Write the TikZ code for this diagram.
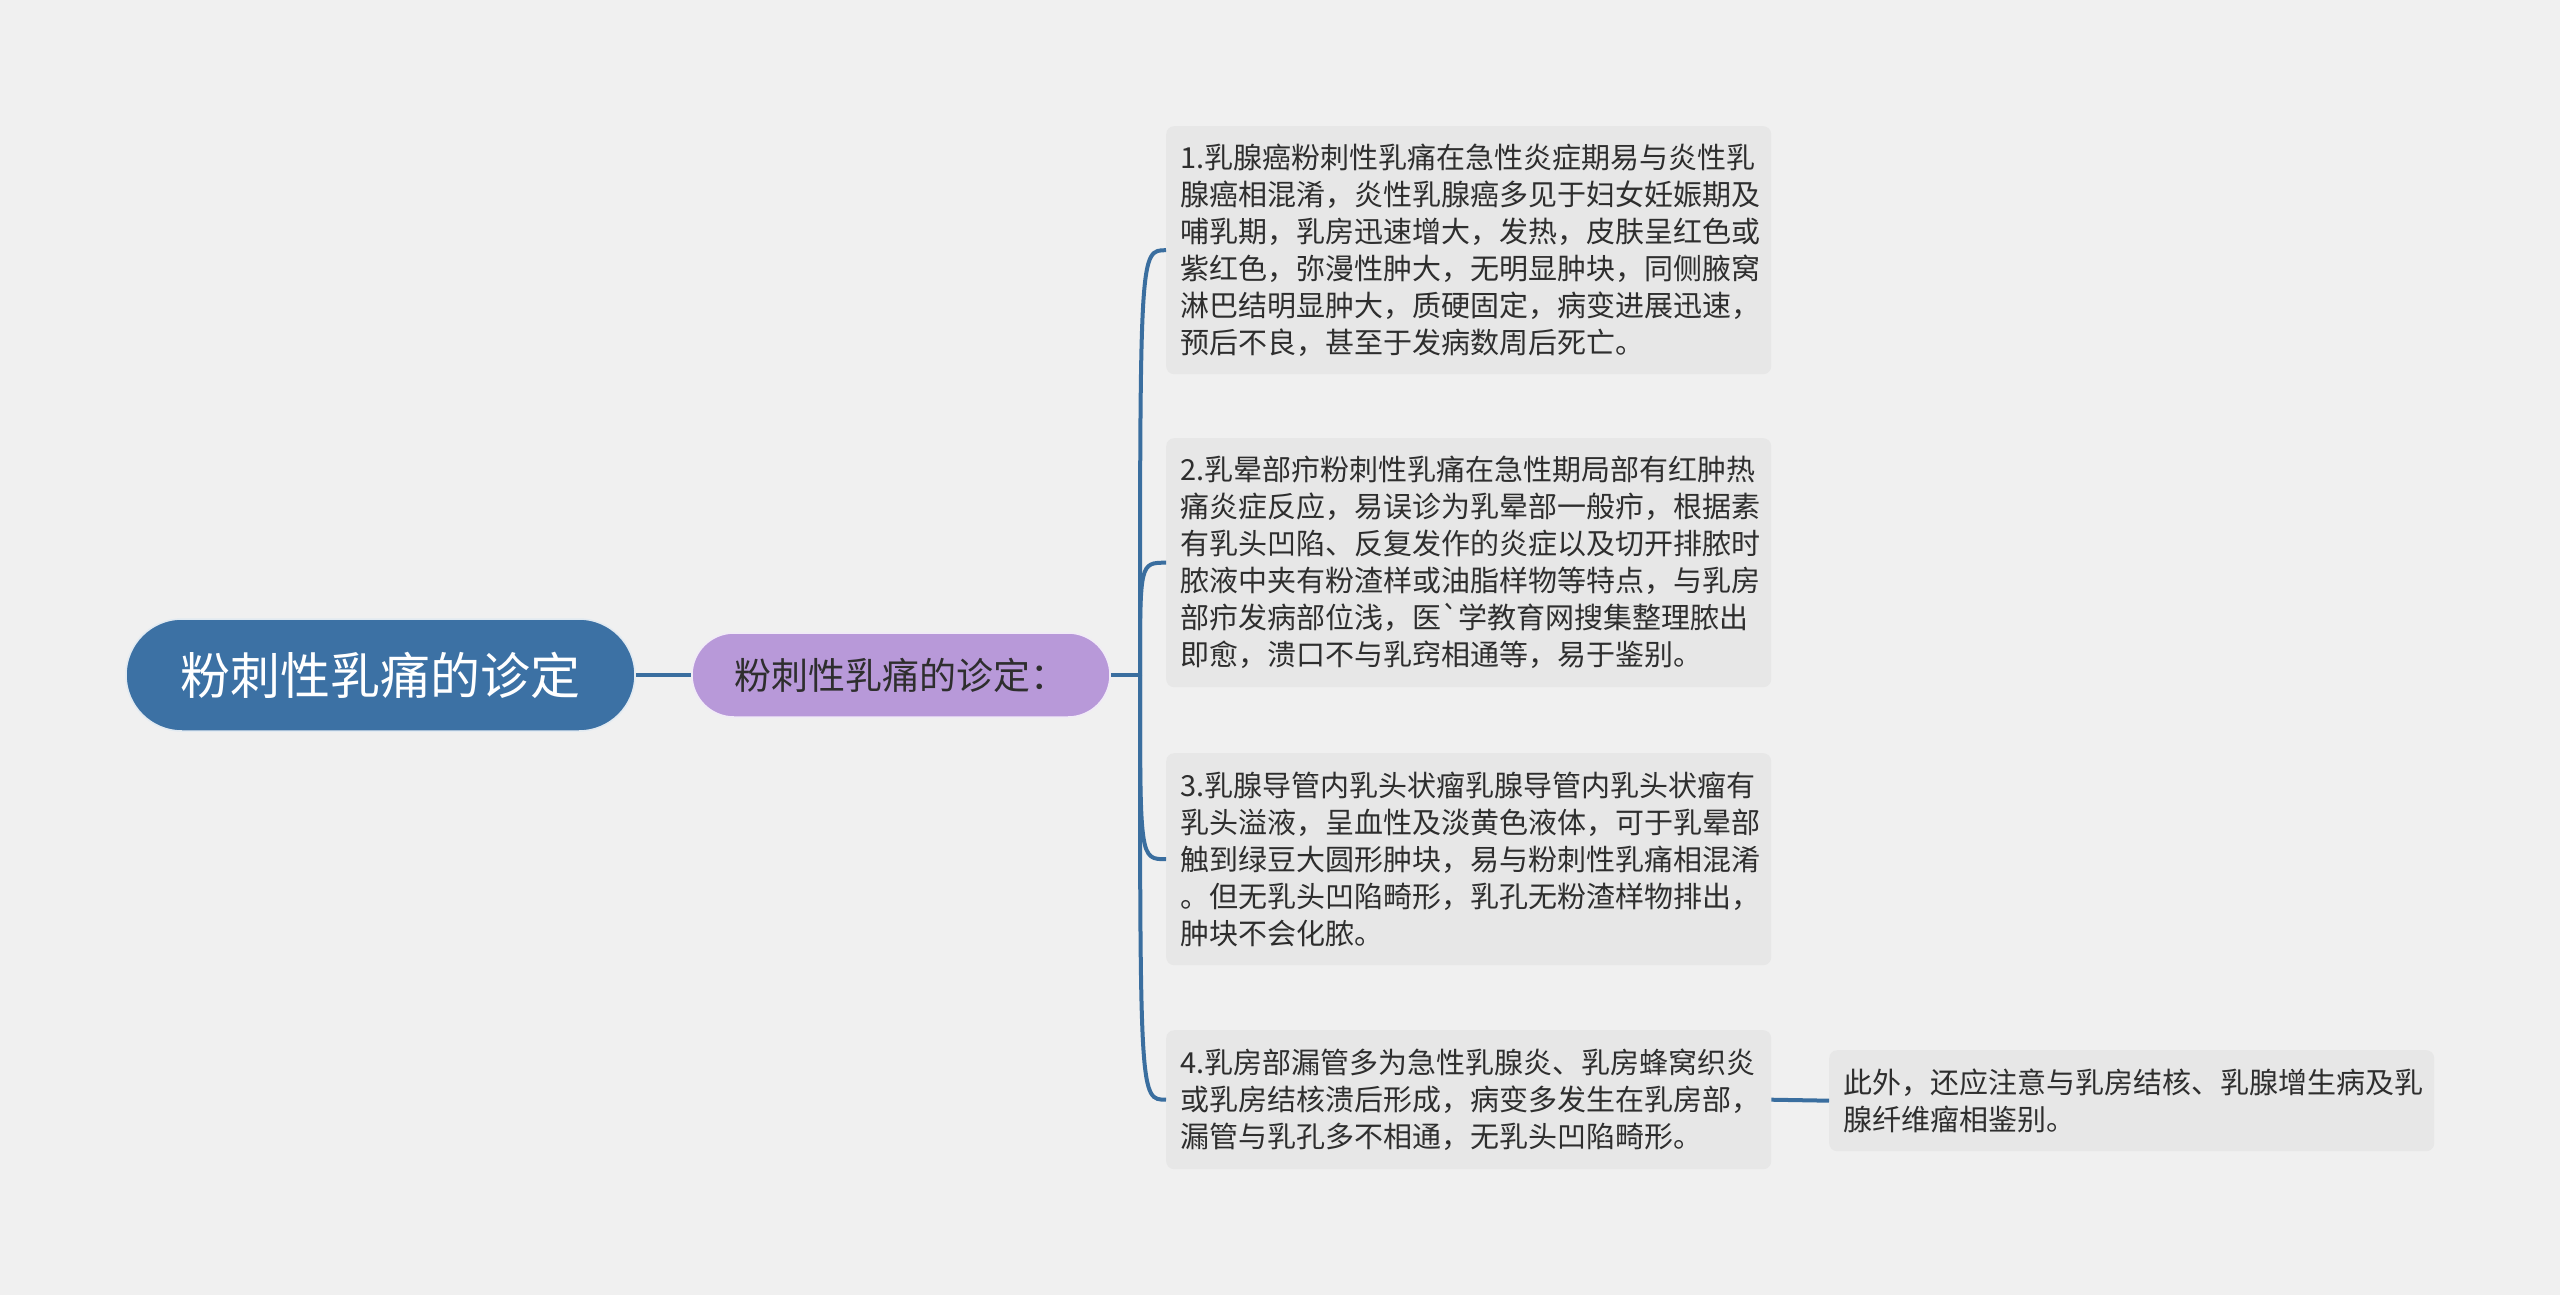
\documentclass[tikz,border=0pt]{standalone}
\usepackage{fontspec}
\setmainfont{Noto Sans CJK SC}
\definecolor{bgc}{HTML}{F0F0F0}
\definecolor{rootc}{HTML}{3C71A4}
\definecolor{subc}{HTML}{B899D9}
\definecolor{boxc}{HTML}{E7E7E7}
\definecolor{linec}{HTML}{3A6E9F}
\definecolor{txtc}{HTML}{2E2E2E}
\tikzset{
  rootbox/.style={fill=rootc, draw=white!85!rootc, line width=1.5pt, rounded corners=56pt,
    minimum width=509pt, minimum height=112pt, inner sep=0pt, text=white,
    font=\fontsize{50}{58}\selectfont},
  subbox/.style={fill=subc, draw=white!80!subc, line width=1.5pt, rounded corners=42pt,
    minimum width=418pt, minimum height=84pt, inner sep=0pt, text=txtc,
    font=\fontsize{37}{44}\selectfont},
  leafbox/.style={fill=boxc, rounded corners=8pt, anchor=north west,
    minimum width=605pt, text width=577pt, inner xsep=14pt, inner ysep=0pt,
    align=left, text=txtc, font=\fontsize{29}{37}\selectfont},
  conn/.style={draw=linec, line width=4pt}
}
\begin{document}
\begin{tikzpicture}[x=1pt,y=-1pt]
\fill[bgc] (0,0) rectangle (2560,1295);
\useasboundingbox (0,0) rectangle (2560,1295);

\coordinate (j) at (1140,675);
\node[rootbox] (root) at (380.5,675) {粉刺性乳痛的诊定};
\node[subbox] (sub) at (901,675) {粉刺性乳痛的诊定：};

\node[leafbox, minimum height=248pt] (b1) at (1166,126) {1.乳腺癌粉刺性乳痛在急性炎症期易与炎性乳\\腺癌相混淆，炎性乳腺癌多见于妇女妊娠期及\\哺乳期，乳房迅速增大，发热，皮肤呈红色或\\紫红色，弥漫性肿大，无明显肿块，同侧腋窝\\淋巴结明显肿大，质硬固定，病变进展迅速，\\预后不良，甚至于发病数周后死亡。};
\node[leafbox, minimum height=249pt] (b2) at (1166,438) {2.乳晕部疖粉刺性乳痛在急性期局部有红肿热\\痛炎症反应，易误诊为乳晕部一般疖，根据素\\有乳头凹陷、反复发作的炎症以及切开排脓时\\脓液中夹有粉渣样或油脂样物等特点，与乳房\\部疖发病部位浅，医\textasciigrave 学教育网搜集整理脓出\\即愈，溃口不与乳窍相通等，易于鉴别。};
\node[leafbox, minimum height=212pt] (b3) at (1166,753) {3.乳腺导管内乳头状瘤乳腺导管内乳头状瘤有\\乳头溢液，呈血性及淡黄色液体，可于乳晕部\\触到绿豆大圆形肿块，易与粉刺性乳痛相混淆\\。但无乳头凹陷畸形，乳孔无粉渣样物排出，\\肿块不会化脓。};
\node[leafbox, minimum height=139pt] (b4) at (1166,1030) {4.乳房部漏管多为急性乳腺炎、乳房蜂窝织炎\\或乳房结核溃后形成，病变多发生在乳房部，\\漏管与乳孔多不相通，无乳头凹陷畸形。};
\node[leafbox, minimum height=101pt] (b5) at (1829,1050) {此外，还应注意与乳房结核、乳腺增生病及乳\\腺纤维瘤相鉴别。};

\draw[conn] (root.east) -- (sub.west);
\draw[conn] (sub.east) -- (j);
\foreach \b in {b1,b2,b3,b4}{
  \draw[conn] (j) .. controls (j |- \b.west) and (j |- \b.west) .. (\b.west);
}
\draw[conn] (b4.east) -- (b5.west);
\end{tikzpicture}
\end{document}
